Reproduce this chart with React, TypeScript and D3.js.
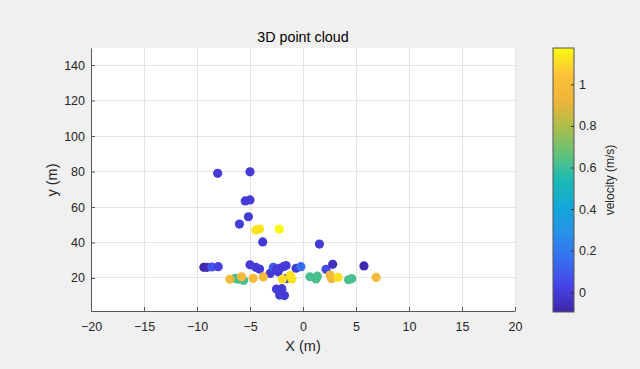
import React, { useEffect, useRef } from 'react';
import * as d3 from 'd3';

// point cloud (x in m, y in m, velocity in m/s)
const xs = [
  -8.05, -5.0, -5.45, -5.0, -5.15, -6.0, -3.8, 1.55,
  -9.35, -9.05, -8.6, -8.0, -5.0, -4.45, -4.1, -3.1, -2.8, -2.5, -2.2, -1.85, -1.6, -2.35,
  -0.65, -0.2, 2.17, 2.8, 5.75, -2.5, -2.0, -2.2, -1.75, -1.6,
  -6.4, -6.1, -5.6, 0.66, 1.23, 1.35, 4.3, 4.6,
  -6.9, -5.8, -4.7, -3.75, 2.55, 2.7, 6.9,
  -4.45, -4.1, -2.24, -1.95, -1.2, -1.05, 3.3,
];
const ys = [
  79.0, 79.8, 63.4, 64.0, 54.5, 50.4, 40.3, 39.1,
  26.0, 26.0, 26.2, 26.4, 27.4, 26.0, 25.0, 22.6, 26.0, 24.9, 25.5, 26.4, 27.0, 23.5,
  25.5, 26.4, 24.9, 27.7, 26.8, 13.8, 14.0, 10.4, 10.1, 19.6,
  19.8, 19.3, 18.6, 20.7, 19.5, 21.0, 19.0, 19.6,
  19.3, 20.7, 19.8, 20.6, 21.7, 19.6, 20.3,
  47.0, 47.6, 47.6, 19.3, 21.4, 19.4, 20.4,
];
const vs = [
  0.0, 0.0, 0.0, 0.0, 0.0, 0.0, 0.0, 0.0,
  -0.095, -0.07, 0.08, 0.02, 0.0, 0.0, 0.0, 0.0, 0.1, 0.0, 0.0, 0.0, 0.0, 0.0,
  0.0, 0.15, 0.05, -0.05, -0.08, 0.0, 0.0, 0.0, 0.0, 0.0,
  0.62, 0.62, 0.62, 0.62, 0.62, 0.62, 0.62, 0.62,
  0.98, 0.98, 0.98, 0.98, 0.98, 0.98, 0.98,
  1.12, 1.12, 1.175, 1.12, 1.12, 1.12, 1.12,
];

const xTicks = [-20, -15, -10, -5, 0, 5, 10, 15, 20];
const yTicks = [20, 40, 60, 80, 100, 120, 140];
const cTicks = [0, 0.2, 0.4, 0.6, 0.8, 1];

// parula-like colormap
const parula = ['#3e26a8', '#4743e8', '#366ff0', '#2891e8', '#12a8d8', '#1bbab3',
  '#64c27a', '#acbe4a', '#eeb43a', '#fdc13a', '#f9fb0e'];

const App = () => {
  const svgRef = useRef<SVGSVGElement>(null);

  useEffect(() => {
    const svg = d3.select(svgRef.current);
    svg.selectAll('*').remove();

    const font = 'Arial, "Liberation Sans", sans-serif';
    const ink = '#262626';
    const left = 91, right = 515, top = 48, bottom = 311;

    const x = d3.scaleLinear().domain([-20, 20]).range([left, right]);
    const y = d3.scaleLinear().domain([1.4, 149.6]).range([bottom, top]);
    const c = d3.scaleLinear().domain([-0.095, 1.175]).range([0, 1]);
    const cmap = d3.scaleLinear<string>()
      .domain(parula.map((_, i) => i / (parula.length - 1)))
      .range(parula)
      .interpolate(d3.interpolateRgb);
    const color = (v: number) => cmap(c(v));

    svg.append('rect').attr('width', 640).attr('height', 369).attr('fill', '#f0f0f0');
    svg.append('rect')
      .attr('x', left).attr('y', top)
      .attr('width', right - left).attr('height', bottom - top)
      .attr('fill', '#fff');

    // grid
    const grid = svg.append('g').attr('stroke', '#e3e3e3').attr('shape-rendering', 'crispEdges');
    grid.selectAll('.gx').data(xTicks).enter().append('line')
      .attr('x1', d => x(d)).attr('x2', d => x(d))
      .attr('y1', top).attr('y2', bottom);
    grid.selectAll('.gy').data(yTicks).enter().append('line')
      .attr('y1', d => y(d)).attr('y2', d => y(d))
      .attr('x1', left).attr('x2', right);

    // points
    svg.append('g').selectAll('circle')
      .data(xs.map((d, i) => i))
      .enter()
      .append('circle')
      .attr('cx', i => x(xs[i]))
      .attr('cy', i => y(ys[i]))
      .attr('r', 4.6)
      .attr('fill', i => color(vs[i]));

    // axes
    const gx = svg.append('g')
      .attr('transform', `translate(0,${bottom})`)
      .call(d3.axisBottom(x).tickValues(xTicks).tickSizeInner(-4).tickSizeOuter(0).tickPadding(11));
    const gy = svg.append('g')
      .attr('transform', `translate(${left},0)`)
      .call(d3.axisLeft(y).tickValues(yTicks).tickSizeInner(-4).tickSizeOuter(0).tickPadding(6));
    [gx, gy].forEach(g => {
      g.select('.domain').attr('stroke', '#555');
      g.selectAll('.tick line').attr('stroke', '#555');
      g.selectAll('text').attr('fill', ink).style('font-family', font).style('font-size', '12.5px');
    });

    // labels
    svg.append('text')
      .attr('x', (left + right) / 2).attr('y', 41.5)
      .attr('text-anchor', 'middle')
      .style('font-family', font).style('font-size', '14.3px')
      .attr('fill', '#000')
      .text('3D point cloud');
    svg.append('text')
      .attr('x', (left + right) / 2).attr('y', 350.5)
      .attr('text-anchor', 'middle')
      .style('font-family', font).style('font-size', '14.5px')
      .attr('fill', ink)
      .text('X (m)');
    svg.append('text')
      .attr('transform', `translate(57,180) rotate(-90)`)
      .attr('text-anchor', 'middle')
      .style('font-family', font).style('font-size', '14.5px')
      .attr('fill', ink)
      .text('y (m)');

    // colorbar
    const cbL = 553, cbR = 574, cbT = 48, cbB = 312;
    const cy = d3.scaleLinear().domain([-0.095, 1.175]).range([cbB, cbT]);
    const defs = svg.append('defs');
    const grad = defs.append('linearGradient')
      .attr('id', 'cbar').attr('x1', 0).attr('y1', 1).attr('x2', 0).attr('y2', 0);
    d3.range(0, 1.0001, 0.02).forEach(t => {
      grad.append('stop').attr('offset', t).attr('stop-color', cmap(t));
    });
    svg.append('rect')
      .attr('x', cbL).attr('y', cbT)
      .attr('width', cbR - cbL).attr('height', cbB - cbT)
      .attr('fill', 'url(#cbar)')
      .attr('stroke', '#555').attr('stroke-width', 1);
    const gc = svg.append('g')
      .attr('transform', `translate(${cbR},0)`)
      .call(d3.axisRight(cy).tickValues(cTicks).tickSizeInner(-3).tickSizeOuter(0).tickPadding(5)
        .tickFormat(d => String(d)));
    gc.select('.domain').remove();
    gc.selectAll('.tick line').attr('stroke', '#333');
    gc.selectAll('text').attr('fill', ink).style('font-family', font).style('font-size', '12.5px');
    svg.append('text')
      .attr('transform', `translate(614,180) rotate(-90)`)
      .attr('text-anchor', 'middle')
      .style('font-family', font).style('font-size', '12px')
      .attr('fill', ink)
      .text('velocity (m/s)');
  }, []);

  return (
    <svg ref={svgRef} width={640} height={369}
      style={{ position: 'absolute', left: 0, top: 0 }} />
  );
};

export default App;
